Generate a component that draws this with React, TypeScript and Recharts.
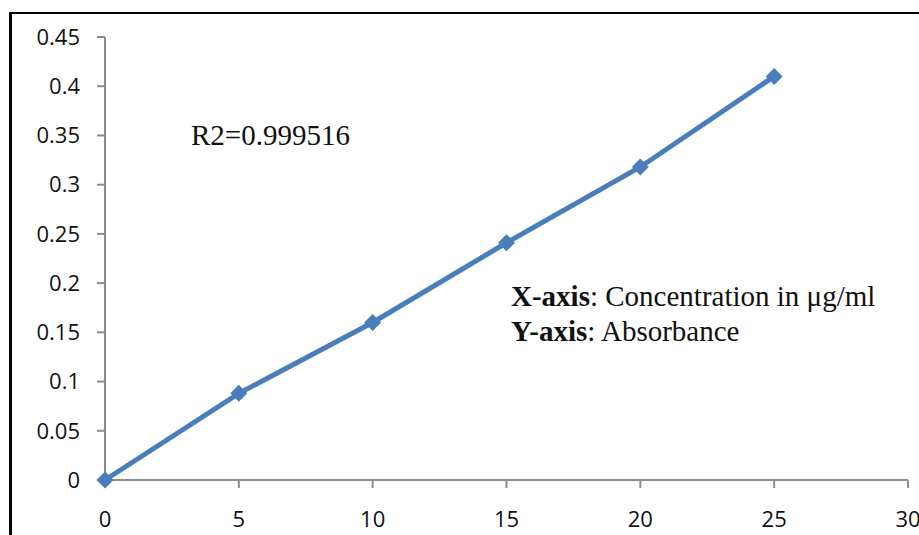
import { LineChart, Line, XAxis, YAxis } from "recharts"

const concentrations = [0, 5, 10, 15, 20, 25]
const absorbance = [0, 0.088, 0.16, 0.241, 0.318, 0.41]
const xTicks = [0, 5, 10, 15, 20, 25, 30]
const yTicks = [0, 0.05, 0.1, 0.15, 0.2, 0.25, 0.3, 0.35, 0.4, 0.45]

const data = concentrations.map((c, i) => ({ conc: c, abs: absorbance[i] }))

const BLUE = "#4a7ebb"
const AXIS = "#8c8c8c"

const Diamond = ({ cx, cy }: any) => {
  const r = 8.5
  return (
    <path
      d={`M${cx},${cy - r} L${cx + r},${cy} L${cx},${cy + r} L${cx - r},${cy} Z`}
      fill={BLUE}
      stroke="none"
    />
  )
}

const tickStyle = { fill: "#111", fontSize: 22, fontFamily: "'Open Sans', sans-serif" }
const noteStyle: any = {
  position: "absolute",
  fontFamily: "'Liberation Serif', 'Times New Roman', serif",
  fontSize: 29,
  lineHeight: "35px",
  color: "#111",
  whiteSpace: "nowrap",
}

const App = () => {
  return (
    <div
      style={{
        position: "fixed",
        left: 0,
        top: 0,
        width: 919,
        height: 535,
        overflow: "hidden",
        background: "#fff",
      }}
    >
      <div
        style={{
          position: "absolute",
          left: 9,
          top: 12,
          width: 960,
          height: 600,
          borderLeft: "3px solid #000",
          borderTop: "2px solid #000",
        }}
      />
      <div style={{ position: "absolute", left: 0, top: 0 }}>
        <LineChart
          width={919}
          height={535}
          data={data}
          margin={{ top: 37, right: 11, bottom: 0, left: 0 }}
        >
          <XAxis
            dataKey="conc"
            type="number"
            domain={[0, 30]}
            ticks={xTicks}
            interval={0}
            height={55}
            tickSize={8}
            tickMargin={23}
            axisLine={{ stroke: AXIS, strokeWidth: 2 }}
            tickLine={{ stroke: AXIS, strokeWidth: 2 }}
            tick={tickStyle}
          />
          <YAxis
            type="number"
            domain={[0, 0.45]}
            ticks={yTicks}
            interval={0}
            width={105}
            tickSize={8}
            tickMargin={17}
            axisLine={{ stroke: AXIS, strokeWidth: 2 }}
            tickLine={{ stroke: AXIS, strokeWidth: 2 }}
            tick={tickStyle}
          />
          <Line
            dataKey="abs"
            stroke={BLUE}
            strokeWidth={5}
            dot={<Diamond />}
            activeDot={false}
            isAnimationActive={false}
          />
        </LineChart>
      </div>
      <div style={{ ...noteStyle, left: 191, top: 118 }}>R2=0.999516</div>
      <div style={{ ...noteStyle, left: 511, top: 279 }}>
        <div>
          <b>X-axis</b>: Concentration in μg/ml
        </div>
        <div>
          <b>Y-axis</b>: Absorbance
        </div>
      </div>
    </div>
  )
}

export default App
